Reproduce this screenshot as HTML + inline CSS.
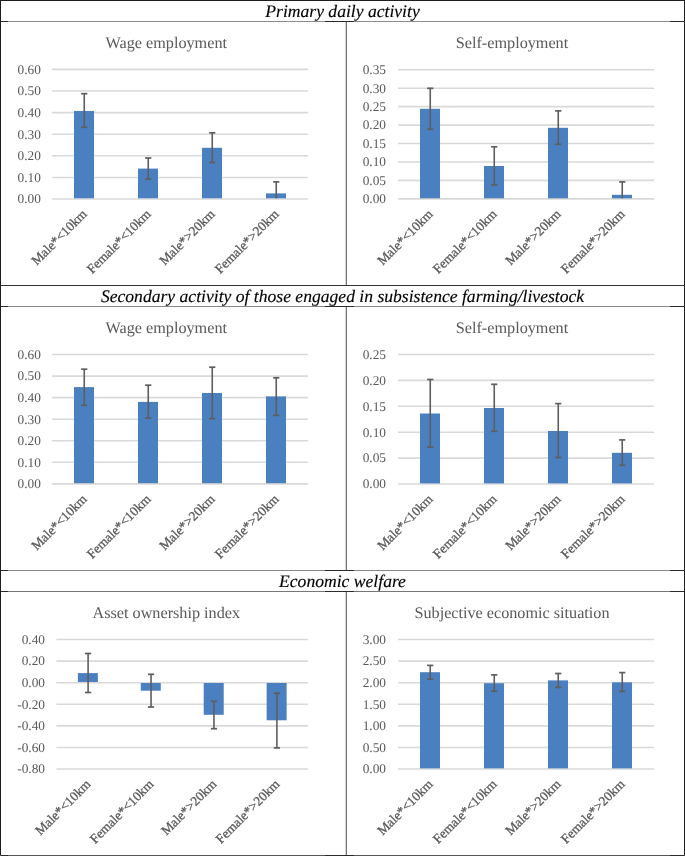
<!DOCTYPE html>
<html><head><meta charset="utf-8"><style>
html,body{margin:0;padding:0;background:#fff;}
svg{display:block;will-change:transform;}
text{font-family:"Liberation Serif", serif;text-rendering:geometricPrecision;}
.t{font-size:16.2px;fill:#595959;}
.a{font-size:13.33px;fill:#595959;}
.x{stroke:#595959;stroke-width:0.3px;}
.h{font-size:17.6px;font-style:italic;fill:#000;stroke:#000;stroke-width:0.15px;}
</style></head><body>
<svg width="685" height="856" viewBox="0 0 685 856">
<rect x="0" y="0" width="685" height="1" fill="#1e1e1e"/>
<rect x="0" y="0" width="1" height="856" fill="#1e1e1e"/>
<rect x="684" y="0" width="1" height="856" fill="#1e1e1e"/>
<rect x="0" y="855" width="685" height="1" fill="#555"/>
<rect x="1" y="855" width="7" height="1" fill="#2a2a2a"/>
<rect x="325" y="855" width="29" height="1" fill="#2a2a2a"/>
<rect x="670" y="855" width="14" height="1" fill="#2a2a2a"/>
<rect x="1" y="21" width="683" height="1" fill="#8c8c8c"/>
<rect x="1" y="21" width="7" height="1" fill="#2a2a2a"/>
<rect x="325" y="21" width="29" height="1" fill="#2a2a2a"/>
<rect x="670" y="21" width="14" height="1" fill="#2a2a2a"/>
<rect x="1" y="285" width="683" height="1" fill="#333"/>
<rect x="1" y="306" width="683" height="1" fill="#888"/>
<rect x="1" y="306" width="7" height="1" fill="#2a2a2a"/>
<rect x="325" y="306" width="29" height="1" fill="#2a2a2a"/>
<rect x="670" y="306" width="14" height="1" fill="#2a2a2a"/>
<rect x="1" y="570" width="683" height="1" fill="#888"/>
<rect x="1" y="570" width="7" height="1" fill="#2a2a2a"/>
<rect x="325" y="570" width="29" height="1" fill="#2a2a2a"/>
<rect x="670" y="570" width="14" height="1" fill="#2a2a2a"/>
<rect x="1" y="591" width="683" height="1" fill="#777"/>
<rect x="1" y="591" width="7" height="1" fill="#2a2a2a"/>
<rect x="325" y="591" width="29" height="1" fill="#2a2a2a"/>
<rect x="670" y="591" width="14" height="1" fill="#2a2a2a"/>
<rect x="345" y="22" width="1" height="263" fill="#d4d4d4"/>
<rect x="346" y="22" width="1" height="263" fill="#747474"/>
<rect x="345" y="307" width="1" height="263" fill="#d4d4d4"/>
<rect x="346" y="307" width="1" height="263" fill="#747474"/>
<rect x="345" y="592" width="1" height="263" fill="#d4d4d4"/>
<rect x="346" y="592" width="1" height="263" fill="#747474"/>
<text x="342.5" y="16.5" text-anchor="middle" class="h">Primary daily activity</text>
<text x="342.5" y="301.5" text-anchor="middle" class="h">Secondary activity of those engaged in subsistence farming/livestock</text>
<text x="342.5" y="586.5" text-anchor="middle" class="h">Economic welfare</text>
<text x="166.3" y="47.5" text-anchor="middle" class="t">Wage employment</text>
<line x1="52" y1="69.35" x2="308" y2="69.35" stroke="#d9d9d9" stroke-width="1.6"/>
<text x="40.8" y="73.69999999999999" text-anchor="end" class="a">0.60</text>
<line x1="52" y1="90.97" x2="308" y2="90.97" stroke="#d9d9d9" stroke-width="1.6"/>
<text x="40.8" y="95.32" text-anchor="end" class="a">0.50</text>
<line x1="52" y1="112.58" x2="308" y2="112.58" stroke="#d9d9d9" stroke-width="1.6"/>
<text x="40.8" y="116.92999999999999" text-anchor="end" class="a">0.40</text>
<line x1="52" y1="134.20" x2="308" y2="134.20" stroke="#d9d9d9" stroke-width="1.6"/>
<text x="40.8" y="138.54999999999998" text-anchor="end" class="a">0.30</text>
<line x1="52" y1="155.82" x2="308" y2="155.82" stroke="#d9d9d9" stroke-width="1.6"/>
<text x="40.8" y="160.17" text-anchor="end" class="a">0.20</text>
<line x1="52" y1="177.43" x2="308" y2="177.43" stroke="#d9d9d9" stroke-width="1.6"/>
<text x="40.8" y="181.78" text-anchor="end" class="a">0.10</text>
<line x1="52" y1="199.05" x2="308" y2="199.05" stroke="#d9d9d9" stroke-width="1.6"/>
<text x="40.8" y="203.4" text-anchor="end" class="a">0.00</text>
<rect x="74.00" y="111.0" width="20" height="87.30" fill="#4a80bf"/>
<line x1="84.25" y1="93.7" x2="84.25" y2="127.3" stroke="#5e5e5e" stroke-width="1.6"/>
<line x1="81.15" y1="93.7" x2="87.35" y2="93.7" stroke="#5e5e5e" stroke-width="1.7"/>
<line x1="81.15" y1="127.3" x2="87.35" y2="127.3" stroke="#5e5e5e" stroke-width="1.7"/>
<text transform="translate(87.60,215) rotate(-45)" text-anchor="end" class="a x">Male*&lt;10km</text>
<rect x="138.00" y="168.6" width="20" height="29.70" fill="#4a80bf"/>
<line x1="148.25" y1="158.0" x2="148.25" y2="179.1" stroke="#5e5e5e" stroke-width="1.6"/>
<line x1="145.15" y1="158.0" x2="151.35" y2="158.0" stroke="#5e5e5e" stroke-width="1.7"/>
<line x1="145.15" y1="179.1" x2="151.35" y2="179.1" stroke="#5e5e5e" stroke-width="1.7"/>
<text transform="translate(151.60,215) rotate(-45)" text-anchor="end" class="a x">Female*&lt;10km</text>
<rect x="202.00" y="147.8" width="20" height="50.50" fill="#4a80bf"/>
<line x1="212.25" y1="132.8" x2="212.25" y2="162.5" stroke="#5e5e5e" stroke-width="1.6"/>
<line x1="209.15" y1="132.8" x2="215.35" y2="132.8" stroke="#5e5e5e" stroke-width="1.7"/>
<line x1="209.15" y1="162.5" x2="215.35" y2="162.5" stroke="#5e5e5e" stroke-width="1.7"/>
<text transform="translate(215.60,215) rotate(-45)" text-anchor="end" class="a x">Male*&gt;20km</text>
<rect x="266.00" y="193.4" width="20" height="4.90" fill="#4a80bf"/>
<line x1="276.25" y1="181.9" x2="276.25" y2="198.3" stroke="#5e5e5e" stroke-width="1.6"/>
<line x1="273.15" y1="181.9" x2="279.35" y2="181.9" stroke="#5e5e5e" stroke-width="1.7"/>
<text transform="translate(279.60,215) rotate(-45)" text-anchor="end" class="a x">Female*&gt;20km</text>
<text x="512" y="47.5" text-anchor="middle" class="t">Self-employment</text>
<line x1="398" y1="69.75" x2="654" y2="69.75" stroke="#d9d9d9" stroke-width="1.6"/>
<text x="386" y="74.1" text-anchor="end" class="a">0.35</text>
<line x1="398" y1="88.19" x2="654" y2="88.19" stroke="#d9d9d9" stroke-width="1.6"/>
<text x="386" y="92.53999999999999" text-anchor="end" class="a">0.30</text>
<line x1="398" y1="106.64" x2="654" y2="106.64" stroke="#d9d9d9" stroke-width="1.6"/>
<text x="386" y="110.99" text-anchor="end" class="a">0.25</text>
<line x1="398" y1="125.08" x2="654" y2="125.08" stroke="#d9d9d9" stroke-width="1.6"/>
<text x="386" y="129.43" text-anchor="end" class="a">0.20</text>
<line x1="398" y1="143.52" x2="654" y2="143.52" stroke="#d9d9d9" stroke-width="1.6"/>
<text x="386" y="147.87" text-anchor="end" class="a">0.15</text>
<line x1="398" y1="161.96" x2="654" y2="161.96" stroke="#d9d9d9" stroke-width="1.6"/>
<text x="386" y="166.31" text-anchor="end" class="a">0.10</text>
<line x1="398" y1="180.41" x2="654" y2="180.41" stroke="#d9d9d9" stroke-width="1.6"/>
<text x="386" y="184.76" text-anchor="end" class="a">0.05</text>
<line x1="398" y1="198.85" x2="654" y2="198.85" stroke="#d9d9d9" stroke-width="1.6"/>
<text x="386" y="203.2" text-anchor="end" class="a">0.00</text>
<rect x="420.00" y="108.8" width="20" height="89.50" fill="#4a80bf"/>
<line x1="430.25" y1="88.3" x2="430.25" y2="129.3" stroke="#5e5e5e" stroke-width="1.6"/>
<line x1="427.15" y1="88.3" x2="433.35" y2="88.3" stroke="#5e5e5e" stroke-width="1.7"/>
<line x1="427.15" y1="129.3" x2="433.35" y2="129.3" stroke="#5e5e5e" stroke-width="1.7"/>
<text transform="translate(433.60,215) rotate(-45)" text-anchor="end" class="a x">Male*&lt;10km</text>
<rect x="484.00" y="166.0" width="20" height="32.30" fill="#4a80bf"/>
<line x1="494.25" y1="146.8" x2="494.25" y2="184.9" stroke="#5e5e5e" stroke-width="1.6"/>
<line x1="491.15" y1="146.8" x2="497.35" y2="146.8" stroke="#5e5e5e" stroke-width="1.7"/>
<line x1="491.15" y1="184.9" x2="497.35" y2="184.9" stroke="#5e5e5e" stroke-width="1.7"/>
<text transform="translate(497.60,215) rotate(-45)" text-anchor="end" class="a x">Female*&lt;10km</text>
<rect x="548.00" y="127.8" width="20" height="70.50" fill="#4a80bf"/>
<line x1="558.25" y1="110.9" x2="558.25" y2="144.3" stroke="#5e5e5e" stroke-width="1.6"/>
<line x1="555.15" y1="110.9" x2="561.35" y2="110.9" stroke="#5e5e5e" stroke-width="1.7"/>
<line x1="555.15" y1="144.3" x2="561.35" y2="144.3" stroke="#5e5e5e" stroke-width="1.7"/>
<text transform="translate(561.60,215) rotate(-45)" text-anchor="end" class="a x">Male*&gt;20km</text>
<rect x="612.00" y="194.8" width="20" height="3.50" fill="#4a80bf"/>
<line x1="622.25" y1="181.9" x2="622.25" y2="198.3" stroke="#5e5e5e" stroke-width="1.6"/>
<line x1="619.15" y1="181.9" x2="625.35" y2="181.9" stroke="#5e5e5e" stroke-width="1.7"/>
<text transform="translate(625.60,215) rotate(-45)" text-anchor="end" class="a x">Female*&gt;20km</text>
<text x="166.3" y="332.5" text-anchor="middle" class="t">Wage employment</text>
<line x1="52" y1="354.55" x2="308" y2="354.55" stroke="#d9d9d9" stroke-width="1.6"/>
<text x="40.8" y="358.90000000000003" text-anchor="end" class="a">0.60</text>
<line x1="52" y1="376.10" x2="308" y2="376.10" stroke="#d9d9d9" stroke-width="1.6"/>
<text x="40.8" y="380.45000000000005" text-anchor="end" class="a">0.50</text>
<line x1="52" y1="397.65" x2="308" y2="397.65" stroke="#d9d9d9" stroke-width="1.6"/>
<text x="40.8" y="402.0" text-anchor="end" class="a">0.40</text>
<line x1="52" y1="419.20" x2="308" y2="419.20" stroke="#d9d9d9" stroke-width="1.6"/>
<text x="40.8" y="423.55" text-anchor="end" class="a">0.30</text>
<line x1="52" y1="440.75" x2="308" y2="440.75" stroke="#d9d9d9" stroke-width="1.6"/>
<text x="40.8" y="445.1" text-anchor="end" class="a">0.20</text>
<line x1="52" y1="462.30" x2="308" y2="462.30" stroke="#d9d9d9" stroke-width="1.6"/>
<text x="40.8" y="466.65000000000003" text-anchor="end" class="a">0.10</text>
<line x1="52" y1="483.85" x2="308" y2="483.85" stroke="#d9d9d9" stroke-width="1.6"/>
<text x="40.8" y="488.20000000000005" text-anchor="end" class="a">0.00</text>
<rect x="74.00" y="387.1" width="20" height="96.10" fill="#4a80bf"/>
<line x1="84.25" y1="369.2" x2="84.25" y2="405.3" stroke="#5e5e5e" stroke-width="1.6"/>
<line x1="81.15" y1="369.2" x2="87.35" y2="369.2" stroke="#5e5e5e" stroke-width="1.7"/>
<line x1="81.15" y1="405.3" x2="87.35" y2="405.3" stroke="#5e5e5e" stroke-width="1.7"/>
<text transform="translate(87.60,500) rotate(-45)" text-anchor="end" class="a x">Male*&lt;10km</text>
<rect x="138.00" y="401.9" width="20" height="81.30" fill="#4a80bf"/>
<line x1="148.25" y1="385.2" x2="148.25" y2="418.1" stroke="#5e5e5e" stroke-width="1.6"/>
<line x1="145.15" y1="385.2" x2="151.35" y2="385.2" stroke="#5e5e5e" stroke-width="1.7"/>
<line x1="145.15" y1="418.1" x2="151.35" y2="418.1" stroke="#5e5e5e" stroke-width="1.7"/>
<text transform="translate(151.60,500) rotate(-45)" text-anchor="end" class="a x">Female*&lt;10km</text>
<rect x="202.00" y="393.0" width="20" height="90.20" fill="#4a80bf"/>
<line x1="212.25" y1="367.2" x2="212.25" y2="418.6" stroke="#5e5e5e" stroke-width="1.6"/>
<line x1="209.15" y1="367.2" x2="215.35" y2="367.2" stroke="#5e5e5e" stroke-width="1.7"/>
<line x1="209.15" y1="418.6" x2="215.35" y2="418.6" stroke="#5e5e5e" stroke-width="1.7"/>
<text transform="translate(215.60,500) rotate(-45)" text-anchor="end" class="a x">Male*&gt;20km</text>
<rect x="266.00" y="396.4" width="20" height="86.80" fill="#4a80bf"/>
<line x1="276.25" y1="377.8" x2="276.25" y2="415.4" stroke="#5e5e5e" stroke-width="1.6"/>
<line x1="273.15" y1="377.8" x2="279.35" y2="377.8" stroke="#5e5e5e" stroke-width="1.7"/>
<line x1="273.15" y1="415.4" x2="279.35" y2="415.4" stroke="#5e5e5e" stroke-width="1.7"/>
<text transform="translate(279.60,500) rotate(-45)" text-anchor="end" class="a x">Female*&gt;20km</text>
<text x="512" y="332.5" text-anchor="middle" class="t">Self-employment</text>
<line x1="398" y1="354.45" x2="654" y2="354.45" stroke="#d9d9d9" stroke-width="1.6"/>
<text x="386" y="358.8" text-anchor="end" class="a">0.25</text>
<line x1="398" y1="380.37" x2="654" y2="380.37" stroke="#d9d9d9" stroke-width="1.6"/>
<text x="386" y="384.72" text-anchor="end" class="a">0.20</text>
<line x1="398" y1="406.29" x2="654" y2="406.29" stroke="#d9d9d9" stroke-width="1.6"/>
<text x="386" y="410.64000000000004" text-anchor="end" class="a">0.15</text>
<line x1="398" y1="432.21" x2="654" y2="432.21" stroke="#d9d9d9" stroke-width="1.6"/>
<text x="386" y="436.56" text-anchor="end" class="a">0.10</text>
<line x1="398" y1="458.13" x2="654" y2="458.13" stroke="#d9d9d9" stroke-width="1.6"/>
<text x="386" y="462.48" text-anchor="end" class="a">0.05</text>
<line x1="398" y1="484.05" x2="654" y2="484.05" stroke="#d9d9d9" stroke-width="1.6"/>
<text x="386" y="488.40000000000003" text-anchor="end" class="a">0.00</text>
<rect x="420.00" y="413.5" width="20" height="69.90" fill="#4a80bf"/>
<line x1="430.25" y1="379.5" x2="430.25" y2="447.1" stroke="#5e5e5e" stroke-width="1.6"/>
<line x1="427.15" y1="379.5" x2="433.35" y2="379.5" stroke="#5e5e5e" stroke-width="1.7"/>
<line x1="427.15" y1="447.1" x2="433.35" y2="447.1" stroke="#5e5e5e" stroke-width="1.7"/>
<text transform="translate(433.60,500) rotate(-45)" text-anchor="end" class="a x">Male*&lt;10km</text>
<rect x="484.00" y="408.0" width="20" height="75.40" fill="#4a80bf"/>
<line x1="494.25" y1="384.3" x2="494.25" y2="431.3" stroke="#5e5e5e" stroke-width="1.6"/>
<line x1="491.15" y1="384.3" x2="497.35" y2="384.3" stroke="#5e5e5e" stroke-width="1.7"/>
<line x1="491.15" y1="431.3" x2="497.35" y2="431.3" stroke="#5e5e5e" stroke-width="1.7"/>
<text transform="translate(497.60,500) rotate(-45)" text-anchor="end" class="a x">Female*&lt;10km</text>
<rect x="548.00" y="431.0" width="20" height="52.40" fill="#4a80bf"/>
<line x1="558.25" y1="403.6" x2="558.25" y2="457.5" stroke="#5e5e5e" stroke-width="1.6"/>
<line x1="555.15" y1="403.6" x2="561.35" y2="403.6" stroke="#5e5e5e" stroke-width="1.7"/>
<line x1="555.15" y1="457.5" x2="561.35" y2="457.5" stroke="#5e5e5e" stroke-width="1.7"/>
<text transform="translate(561.60,500) rotate(-45)" text-anchor="end" class="a x">Male*&gt;20km</text>
<rect x="612.00" y="452.8" width="20" height="30.60" fill="#4a80bf"/>
<line x1="622.25" y1="439.9" x2="622.25" y2="465.3" stroke="#5e5e5e" stroke-width="1.6"/>
<line x1="619.15" y1="439.9" x2="625.35" y2="439.9" stroke="#5e5e5e" stroke-width="1.7"/>
<line x1="619.15" y1="465.3" x2="625.35" y2="465.3" stroke="#5e5e5e" stroke-width="1.7"/>
<text transform="translate(625.60,500) rotate(-45)" text-anchor="end" class="a x">Female*&gt;20km</text>
<text x="166.3" y="617.5" text-anchor="middle" class="t">Asset ownership index</text>
<line x1="56.4" y1="639.55" x2="308.1" y2="639.55" stroke="#d9d9d9" stroke-width="1.6"/>
<text x="45" y="643.9" text-anchor="end" class="a">0.40</text>
<line x1="56.4" y1="661.13" x2="308.1" y2="661.13" stroke="#d9d9d9" stroke-width="1.6"/>
<text x="45" y="665.48" text-anchor="end" class="a">0.20</text>
<line x1="56.4" y1="682.72" x2="308.1" y2="682.72" stroke="#d9d9d9" stroke-width="1.6"/>
<text x="45" y="687.07" text-anchor="end" class="a">0.00</text>
<line x1="56.4" y1="704.30" x2="308.1" y2="704.30" stroke="#d9d9d9" stroke-width="1.6"/>
<text x="45" y="708.65" text-anchor="end" class="a">-0.20</text>
<line x1="56.4" y1="725.88" x2="308.1" y2="725.88" stroke="#d9d9d9" stroke-width="1.6"/>
<text x="45" y="730.23" text-anchor="end" class="a">-0.40</text>
<line x1="56.4" y1="747.47" x2="308.1" y2="747.47" stroke="#d9d9d9" stroke-width="1.6"/>
<text x="45" y="751.82" text-anchor="end" class="a">-0.60</text>
<line x1="56.4" y1="769.05" x2="308.1" y2="769.05" stroke="#d9d9d9" stroke-width="1.6"/>
<text x="45" y="773.4" text-anchor="end" class="a">-0.80</text>
<rect x="77.86" y="673.1" width="20" height="8.90" fill="#4a80bf"/>
<line x1="88.11" y1="653.5" x2="88.11" y2="692.5" stroke="#5e5e5e" stroke-width="1.6"/>
<line x1="85.01" y1="653.5" x2="91.21" y2="653.5" stroke="#5e5e5e" stroke-width="1.7"/>
<line x1="85.01" y1="692.5" x2="91.21" y2="692.5" stroke="#5e5e5e" stroke-width="1.7"/>
<text transform="translate(91.46,785) rotate(-45)" text-anchor="end" class="a x">Male*&lt;10km</text>
<rect x="140.79" y="683.0" width="20" height="7.70" fill="#4a80bf"/>
<line x1="151.04" y1="674.3" x2="151.04" y2="707.0" stroke="#5e5e5e" stroke-width="1.6"/>
<line x1="147.94" y1="674.3" x2="154.14" y2="674.3" stroke="#5e5e5e" stroke-width="1.7"/>
<line x1="147.94" y1="707.0" x2="154.14" y2="707.0" stroke="#5e5e5e" stroke-width="1.7"/>
<text transform="translate(154.39,785) rotate(-45)" text-anchor="end" class="a x">Female*&lt;10km</text>
<rect x="203.71" y="683.0" width="20" height="31.80" fill="#4a80bf"/>
<line x1="213.96" y1="701.3" x2="213.96" y2="728.7" stroke="#5e5e5e" stroke-width="1.6"/>
<line x1="210.86" y1="701.3" x2="217.06" y2="701.3" stroke="#5e5e5e" stroke-width="1.7"/>
<line x1="210.86" y1="728.7" x2="217.06" y2="728.7" stroke="#5e5e5e" stroke-width="1.7"/>
<text transform="translate(217.31,785) rotate(-45)" text-anchor="end" class="a x">Male*&gt;20km</text>
<rect x="266.64" y="683.0" width="20" height="37.30" fill="#4a80bf"/>
<line x1="276.89" y1="693.2" x2="276.89" y2="747.9" stroke="#5e5e5e" stroke-width="1.6"/>
<line x1="273.79" y1="693.2" x2="279.99" y2="693.2" stroke="#5e5e5e" stroke-width="1.7"/>
<line x1="273.79" y1="747.9" x2="279.99" y2="747.9" stroke="#5e5e5e" stroke-width="1.7"/>
<text transform="translate(280.24,785) rotate(-45)" text-anchor="end" class="a x">Female*&gt;20km</text>
<text x="512" y="617.5" text-anchor="middle" class="t">Subjective economic situation</text>
<line x1="398" y1="639.55" x2="654" y2="639.55" stroke="#d9d9d9" stroke-width="1.6"/>
<text x="386" y="643.9" text-anchor="end" class="a">3.00</text>
<line x1="398" y1="661.13" x2="654" y2="661.13" stroke="#d9d9d9" stroke-width="1.6"/>
<text x="386" y="665.48" text-anchor="end" class="a">2.50</text>
<line x1="398" y1="682.72" x2="654" y2="682.72" stroke="#d9d9d9" stroke-width="1.6"/>
<text x="386" y="687.07" text-anchor="end" class="a">2.00</text>
<line x1="398" y1="704.30" x2="654" y2="704.30" stroke="#d9d9d9" stroke-width="1.6"/>
<text x="386" y="708.65" text-anchor="end" class="a">1.50</text>
<line x1="398" y1="725.88" x2="654" y2="725.88" stroke="#d9d9d9" stroke-width="1.6"/>
<text x="386" y="730.23" text-anchor="end" class="a">1.00</text>
<line x1="398" y1="747.47" x2="654" y2="747.47" stroke="#d9d9d9" stroke-width="1.6"/>
<text x="386" y="751.82" text-anchor="end" class="a">0.50</text>
<line x1="398" y1="769.05" x2="654" y2="769.05" stroke="#d9d9d9" stroke-width="1.6"/>
<text x="386" y="773.4" text-anchor="end" class="a">0.00</text>
<rect x="420.00" y="672.2" width="20" height="96.20" fill="#4a80bf"/>
<line x1="430.25" y1="665.4" x2="430.25" y2="679.2" stroke="#5e5e5e" stroke-width="1.6"/>
<line x1="427.15" y1="665.4" x2="433.35" y2="665.4" stroke="#5e5e5e" stroke-width="1.7"/>
<line x1="427.15" y1="679.2" x2="433.35" y2="679.2" stroke="#5e5e5e" stroke-width="1.7"/>
<text transform="translate(433.60,785) rotate(-45)" text-anchor="end" class="a x">Male*&lt;10km</text>
<rect x="484.00" y="683.2" width="20" height="85.20" fill="#4a80bf"/>
<line x1="494.25" y1="674.9" x2="494.25" y2="691.2" stroke="#5e5e5e" stroke-width="1.6"/>
<line x1="491.15" y1="674.9" x2="497.35" y2="674.9" stroke="#5e5e5e" stroke-width="1.7"/>
<line x1="491.15" y1="691.2" x2="497.35" y2="691.2" stroke="#5e5e5e" stroke-width="1.7"/>
<text transform="translate(497.60,785) rotate(-45)" text-anchor="end" class="a x">Female*&lt;10km</text>
<rect x="548.00" y="680.4" width="20" height="88.00" fill="#4a80bf"/>
<line x1="558.25" y1="673.5" x2="558.25" y2="687.4" stroke="#5e5e5e" stroke-width="1.6"/>
<line x1="555.15" y1="673.5" x2="561.35" y2="673.5" stroke="#5e5e5e" stroke-width="1.7"/>
<line x1="555.15" y1="687.4" x2="561.35" y2="687.4" stroke="#5e5e5e" stroke-width="1.7"/>
<text transform="translate(561.60,785) rotate(-45)" text-anchor="end" class="a x">Male*&gt;20km</text>
<rect x="612.00" y="682.3" width="20" height="86.10" fill="#4a80bf"/>
<line x1="622.25" y1="672.6" x2="622.25" y2="691.4" stroke="#5e5e5e" stroke-width="1.6"/>
<line x1="619.15" y1="672.6" x2="625.35" y2="672.6" stroke="#5e5e5e" stroke-width="1.7"/>
<line x1="619.15" y1="691.4" x2="625.35" y2="691.4" stroke="#5e5e5e" stroke-width="1.7"/>
<text transform="translate(625.60,785) rotate(-45)" text-anchor="end" class="a x">Female*&gt;20km</text>
</svg>
</body></html>
